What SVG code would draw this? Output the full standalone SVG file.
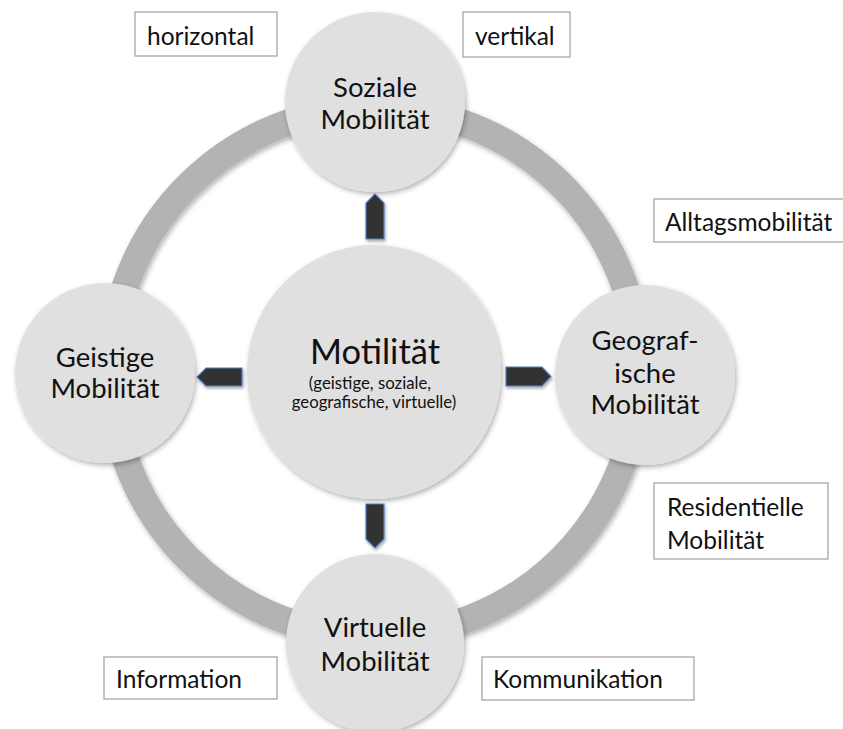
<svg xmlns="http://www.w3.org/2000/svg" width="843" height="729" viewBox="0 0 843 729">
  <style>
    .node { fill: #e0e0e0; }
    .ring { fill: none; stroke: #b3b3b3; stroke-width: 27; }
    .lbl { font-family: Lato, "Open Sans", "Liberation Sans", sans-serif; fill: #111; text-anchor: middle; }
    .big { font-size: 27.5px; }
    .box { fill: #fff; stroke: #a6a6a6; stroke-width: 1.3; }
    .boxt { font-family: Lato, "Open Sans", "Liberation Sans", sans-serif; font-size: 24.5px; fill: #111; }
    .arr { fill: #333333; stroke: #4f81bd; stroke-width: 1.2; stroke-linejoin: miter; }
  </style>
  <defs>
    <filter id="sh" x="-20%" y="-20%" width="140%" height="140%">
      <feDropShadow dx="1.5" dy="2.5" stdDeviation="2.5" flood-color="#000" flood-opacity="0.3"/>
    </filter>
    <filter id="shs" x="-30%" y="-30%" width="160%" height="160%">
      <feDropShadow dx="1" dy="2" stdDeviation="1.5" flood-color="#000" flood-opacity="0.35"/>
    </filter>
  </defs>
  <rect width="843" height="729" fill="#fff"/>

  <g id="ring">
    <circle class="ring" cx="375" cy="372" r="264" filter="url(#sh)"/>
  </g>

  <g id="connectors">
    <polygon class="arr" filter="url(#shs)" points="366,239 366,203 375,194 384,203 384,239"/>
    <polygon class="arr" filter="url(#shs)" points="366,504 384,504 384,539 375,548 366,539"/>
    <polygon class="arr" filter="url(#shs)" points="242,368 206,368 197,377 206,386 242,386"/>
    <polygon class="arr" filter="url(#shs)" points="506,367 542,367 551,376.5 542,386 506,386"/>
  </g>

  <g id="soziale">
    <circle class="node" cx="375" cy="102" r="90" filter="url(#sh)"/>
    <text class="lbl big" x="375" y="97">Soziale</text>
    <text class="lbl big" x="375" y="129">Mobilität</text>
  </g>

  <g id="geistige">
    <circle class="node" cx="105" cy="373" r="90" filter="url(#sh)"/>
    <text class="lbl big" x="105" y="367">Geistige</text>
    <text class="lbl big" x="105" y="398">Mobilität</text>
  </g>

  <g id="geografische">
    <circle class="node" cx="645" cy="375" r="90" filter="url(#sh)"/>
    <text class="lbl big" x="645" y="350">Geograf-</text>
    <text class="lbl big" x="645" y="383">ische</text>
    <text class="lbl big" x="645" y="414">Mobilität</text>
  </g>

  <g id="virtuelle">
    <circle class="node" cx="375" cy="643" r="89" filter="url(#sh)"/>
    <text class="lbl big" x="375" y="637">Virtuelle</text>
    <text class="lbl big" x="375" y="671">Mobilität</text>
  </g>

  <g id="motilitaet">
    <circle class="node" cx="374" cy="372" r="127" filter="url(#sh)"/>
    <text class="lbl" x="375" y="364" font-size="34.5">Motilität</text>
    <text class="lbl" x="370" y="389" font-size="16.8">(geistige, soziale,</text>
    <text class="lbl" x="374" y="408" font-size="16.8">geografische, virtuelle)</text>
  </g>

  <g id="box-horizontal">
    <rect class="box" x="135" y="12" width="142" height="44"/>
    <text class="boxt" x="147" y="45">horizontal</text>
  </g>
  <g id="box-vertikal">
    <rect class="box" x="463" y="12" width="107" height="45"/>
    <text class="boxt" x="475" y="45">vertikal</text>
  </g>
  <g id="box-alltag">
    <rect class="box" x="654" y="199" width="195" height="43"/>
    <text class="boxt" x="665" y="231">Alltagsmobilität</text>
  </g>
  <g id="box-residentielle">
    <rect class="box" x="654" y="483" width="174" height="76"/>
    <text class="boxt" x="667" y="516">Residentielle</text>
    <text class="boxt" x="667" y="549">Mobilität</text>
  </g>
  <g id="box-information">
    <rect class="box" x="104" y="657" width="173" height="42"/>
    <text class="boxt" x="116" y="688">Information</text>
  </g>
  <g id="box-kommunikation">
    <rect class="box" x="482" y="657" width="212" height="43"/>
    <text class="boxt" x="493" y="688">Kommunikation</text>
  </g>
</svg>
